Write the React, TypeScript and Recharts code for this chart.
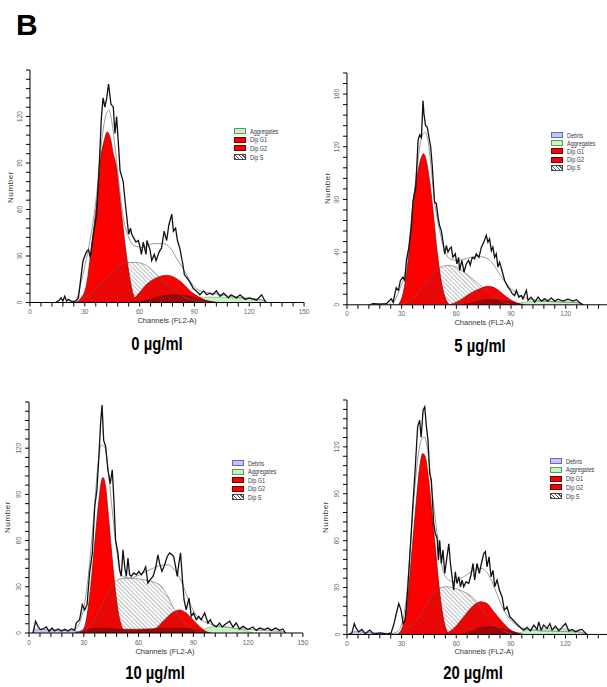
import React from "react"
import { ComposedChart, Area, Line, XAxis, YAxis } from "recharts"

type Pt = [number, number]

// ── Tick labels ───────────────────────────────────────────────────────────────

const xTicks = [0, 6, 12, 18, 24, 30, 36, 42, 48, 54, 60, 66, 72, 78, 84, 90, 96, 102, 108, 114, 120, 126, 132, 138, 144, 150]
const yTicks150 = [0, 6, 12, 18, 24, 30, 36, 42, 48, 54, 60, 66, 72, 78, 84, 90, 96, 102, 108, 114, 120, 126, 132, 138, 144, 150]
const yTicks176 = [0, 8, 16, 24, 32, 40, 48, 56, 64, 72, 80, 88, 96, 104, 112, 120, 128, 136, 144, 152, 160, 168, 176]

const legend0 = ["Aggregates", "Dip G1", "Dip G2", "Dip S"]
const legendN = ["Debris", "Aggregates", "Dip G1", "Dip G2", "Dip S"]

// ── 0 µg/ml  [channel, number] ────────────────────────────────────────────────

const raw0: Pt[] = [[14,0],[16,1.5],[17,3],[18,1],[19,4],[20,1],[21,2],[23,0.5],[25,1],[26.5,3],[29,27],[31,33],[32,34],[33,29],[34.7,44],[36.5,57],[38,91],[39,118],[40,132],[41,126],[42,132],[43,141],[44.3,128],[45.6,126],[46.5,109],[47.4,120],[48.4,102],[49.3,85],[51,78],[52,66],[53,55],[54,44],[55,48],[55.7,44],[56.6,42],[58,39],[59.3,40],[60,37],[61,31],[62,39],[63.5,31],[64,40],[65.7,34],[66.6,27],[68,31],[69,27],[70.8,33],[72,35],[73.4,46],[74.8,40],[76,50],[77.6,57],[78.5,46],[79.7,48],[80.7,40],[82,35],[83.6,25],[84.5,18],[85.8,16],[87.6,13],[89.4,9],[91,7.5],[93,5],[95,7.5],[96.7,5],[98.5,6],[100,5],[102,7.5],[104,4],[106,6],[108.6,3],[110,5],[113,3],[115,5],[117.7,2],[120,3],[124,1.5],[126.8,5],[128.6,1],[129.5,0]]
const fit0: Pt[] = [[25.5,1],[29,18],[32.8,40],[36.5,70],[39,102],[41.6,121],[43.2,124],[45,115],[47.4,91],[51,55],[54,42],[56.6,37],[62,35.5],[67.5,38],[73,38],[76.6,35.5],[80,29],[84,21.5],[87.6,14],[91,9],[96.7,6.5],[102,5.4],[111,3.7],[120,2.8],[127.7,1.5],[129.5,0]]
const g1_0: Pt[] = [[24.6,0],[28,3],[31,12],[34,40],[36.5,65],[38.3,90],[40.5,104],[42.3,110],[44,106],[45.6,96],[47.4,87],[49,70],[51,48],[53.8,22],[56.6,5],[59,0]]
const s0: Pt[] = [[25.5,0],[34.7,7.5],[40,14],[45.6,20],[50,24.7],[54,25.8],[58.4,25.8],[63.9,23.7],[69.3,18],[74.8,11.8],[80.3,6.5],[85.8,2.8],[93,0.6],[96.7,0]]
const g2_0: Pt[] = [[54.7,0],[58.4,4.3],[63.9,11.8],[69.3,16],[74.8,17.6],[78.5,16.5],[83,13],[87.6,7.5],[93,3.2],[98.5,0.6],[102,0]]
const dark0: Pt[] = [[56.6,0],[65.7,2],[73,4.3],[78.5,5],[85.8,4.3],[93,2],[100,0.5],[103,0]]
const agg0: Pt[] = [[60,0],[80,1.5],[90,3],[100,3.5],[110,3],[120,2.5],[128,1],[130,0]]

// ── 5 µg/ml ───────────────────────────────────────────────────────────────────

const raw5: Pt[] = [[12.4,0],[14.3,0.8],[18,0.5],[21.6,0.8],[24.3,4.5],[25.3,2],[27,13],[28.2,11],[29.3,18.5],[30.7,21],[31.7,18.5],[32.6,34],[34,44],[35.3,59],[36.2,79],[37.7,89],[39,125],[39.9,129],[40.8,127],[41.7,155],[42.2,145],[43.1,136],[44,135],[45,127],[45.9,120],[46.8,105],[48,78],[49,77],[49.9,67],[50.8,60],[51.7,56.5],[52.7,47.6],[53.6,38.7],[54.5,45],[55.4,40],[56.3,42.5],[57.2,43.8],[58.1,36],[59.4,38.7],[60.3,31],[61.2,36],[61.8,26],[63,33.7],[64.2,24.8],[65.4,31],[66.7,33.7],[67.6,30],[68.7,36],[70,35],[70.9,38.7],[72.4,36],[73.7,43.8],[75.1,47.6],[76.4,52.7],[77.3,47.6],[78.2,50],[79.2,41],[80,43.8],[81,36],[81.9,38.7],[82.8,28.6],[83.7,32.4],[85,26],[86.5,18.5],[88.3,13.4],[89.6,11],[90.7,8.4],[92,7],[92.9,11],[94.3,5.8],[95.6,7],[96.5,4.5],[98.4,11],[99.3,3.3],[101,5.8],[103,2],[104.8,5.8],[106.6,2.8],[108.4,4.5],[110.2,2.8],[112,5.3],[113.9,2.8],[115.7,4.3],[118.5,2.8],[121.2,4.3],[124,2.8],[125.8,3.8],[127.6,1.8],[129.4,0]]
const fit5: Pt[] = [[25.3,0.5],[28.9,12],[32.5,28.6],[36.2,76.7],[39,110],[40.8,127],[42.6,131],[44.4,125],[46.3,102],[48,79],[50.8,56.5],[53.6,41],[56.3,35],[60,33.7],[65.4,35],[70.9,36.7],[75.5,36],[79.2,32.4],[83.7,23.5],[87.4,16],[91,11],[94.7,7],[102,3.8],[113,2.3],[124,1.8],[128.5,0.8],[130,0]]
const g1_5: Pt[] = [[28,0],[30.7,8.4],[33.5,33.7],[36.2,76.7],[39,102],[40.8,112],[42,114.7],[43.5,109.6],[45.3,94.4],[47.2,71.6],[49,46.3],[50.8,26],[52.7,11],[54.5,3.3],[56.3,0]]
const s5: Pt[] = [[28.9,0],[36.2,4.5],[41.7,13.4],[47.2,23.5],[50.8,28],[55.4,30],[60,28.6],[65.4,23.5],[70.9,17.2],[76.4,11],[81.9,5.3],[87.4,1.3],[91,0]]
const g2_5: Pt[] = [[56.3,0],[61.8,3.3],[67.3,8.4],[72.8,12.2],[77.3,14],[81.9,12.2],[86.5,7],[91,2.8],[95.6,0]]
const dark5: Pt[] = [[63,0],[70.9,2],[76.4,3.8],[81.9,3.8],[87.4,2.8],[94.7,0.8],[98,0]]
const agg5: Pt[] = [[88,0],[95,1.5],[98.4,2],[105.7,2.8],[116.6,2.3],[125.8,1.8],[130,0]]
const deb5: Pt[] = [[12,0],[15,0.8],[25,0.5],[28,0]]

// ── 10 µg/ml ──────────────────────────────────────────────────────────────────

const raw10: Pt[] = [[2.2,0],[3.6,7.6],[4.9,4.3],[6.2,2.2],[7.7,2.6],[9.5,3.9],[11,1],[12.6,3.2],[14,1.3],[15.9,2.6],[17.7,1.3],[19.5,2.4],[21.4,1.3],[23.2,2.8],[25,1.7],[25.9,6.5],[27.7,8.6],[29.2,18.4],[30.5,15],[31.8,18.4],[33.2,39],[34.7,52],[36,82],[37.2,93],[38.3,115],[39.2,136],[40,148],[40.9,125],[42,121],[43.2,106],[44.5,97],[45.6,106],[46.5,86.5],[47.4,60.5],[48.7,52],[49.6,41],[50.5,36.8],[51.5,54],[52.4,43],[53.3,36.8],[54.2,48.6],[55.1,37.8],[56,36.8],[57.3,39],[58.8,37.8],[60.2,40],[61.5,37.8],[62.8,40],[63.9,43],[65.1,32.4],[66.4,34.6],[67.9,36.8],[69.3,42],[70.6,50.8],[71.5,45.4],[72.8,40],[74.3,44.3],[75.7,49.7],[77,52],[78.3,50.8],[79.2,49.7],[80.3,43],[81.2,36.8],[82.1,45.4],[83,52],[83.9,36.8],[84.9,21.6],[86.1,15],[87.6,22.7],[88.9,10.8],[90.1,13],[91.6,8.6],[93,10.8],[94.3,8.6],[96.2,13],[98,6.5],[99.3,8.6],[100.7,5.4],[102.6,3.9],[104.4,6.5],[105.8,3.9],[107.1,5.4],[109.9,7.6],[111.7,3.9],[113.5,6.5],[115.3,2.6],[117.2,4.3],[119.9,2.2],[122.6,3.9],[124.5,1.7],[126.3,3.2],[129,2.2],[130.8,3.2],[132.7,1.7],[135,3.2],[137.2,1.7],[139,2.6],[140.5,0]]
const fit10: Pt[] = [[25,2],[27.7,6.5],[30.5,19.5],[33.2,45.4],[36,84],[37.8,110],[39.6,122],[41.4,121],[43.2,108],[45,86.5],[46.9,65],[48.7,47.6],[51.5,36.8],[55.1,35.7],[60.6,37.8],[66,41],[71.5,43.7],[76.1,44.3],[79.7,41],[83.4,33.5],[87,22.7],[90.7,13],[94.3,8.6],[100.7,5.4],[108,3.9],[117,2.6],[126,1.7],[139,1],[140.5,0]]
const g1_10: Pt[] = [[27.7,0],[30.5,4.3],[33.2,23.8],[36,58.4],[38.3,86.5],[39.6,98.4],[40.5,101],[42,95],[43.2,80],[45,56],[46.9,32.4],[48.7,15],[50.5,5.4],[52.9,0.4],[54,0]]
const s10: Pt[] = [[25.9,0],[33.2,4.3],[36.9,10.8],[40.5,19.5],[44.2,29],[47.8,34],[51.5,35.5],[56.9,35.5],[62.4,34.6],[67.9,33.3],[72.4,30.3],[76.1,23.8],[79.7,15],[83.4,8.6],[88,3.9],[93.4,0.9],[97,0]]
const g2_10: Pt[] = [[64.2,0],[69.7,3.2],[74.3,8.6],[78.8,13.4],[82.5,15],[86.1,13],[89.8,8.6],[93.4,4.3],[97,1],[99.8,0]]
const dark10: Pt[] = [[25,0],[32,2.5],[40,3.2],[50,2.5],[60,2.5],[70,3],[80,3.2],[90,2.5],[97,0]]
const agg10: Pt[] = [[93,0],[97,3],[100,4],[105,4.3],[110,3.5],[115,2.5],[120,1],[123,0]]
const deb10: Pt[] = [[2,0],[3,2.5],[10,2.2],[20,1.8],[25,1.5],[28,0]]

// ── 20 µg/ml ──────────────────────────────────────────────────────────────────

const raw20: Pt[] = [[0.9,0],[2.7,1],[4,7],[5.1,3.8],[6.4,1.7],[8.2,3.2],[10,0.4],[12.5,2.8],[14.7,0.2],[18.3,1],[22,0.2],[24.2,1],[25.6,6],[27.1,13.4],[28.4,19.8],[29.7,15.6],[30.8,7],[32,9.2],[33.3,28.4],[34.8,56],[36,79.5],[37.5,107],[38.8,133],[39.9,137],[40.7,126],[41.8,143.5],[42.7,145.6],[43.6,133],[44.5,124],[45.4,103],[46.3,98.7],[47.6,71],[48.5,64.6],[49.5,61.4],[50.2,47.5],[50.9,60.3],[51.8,45.4],[52.7,54],[53.7,39],[54.9,49.7],[55.9,58],[56.8,45.4],[57.7,36.9],[58.6,28.4],[59.5,40],[60.4,32.6],[61.4,36.9],[62.3,30.5],[63.2,34.8],[64.1,30.5],[65.4,33.7],[66.8,32.6],[68.1,38],[69.2,45.4],[70.1,34.8],[71.4,45.4],[72.7,39],[73.8,45.4],[75.1,51.8],[76,53],[76.9,43.3],[78,49.7],[79.1,36.9],[80.2,41],[81.1,30.5],[82.4,34.8],[83.7,28.4],[85.2,24],[86.4,15.6],[87.9,17.7],[89.4,11.3],[91.2,9.2],[93,7],[95.2,4.5],[97,2.8],[98.9,4.5],[100.7,2.3],[102.6,6],[104.4,3.2],[105.3,8],[106.6,2.8],[108,6],[109.9,3.8],[111.4,7],[112.6,2.8],[114.5,5.3],[116.3,2.3],[118.1,4.5],[120,7],[121.8,2.3],[123.6,3.2],[125.5,1.7],[127.3,2.8],[129.1,3.2],[130.4,1.5],[131.9,0]]
const fit20: Pt[] = [[23.8,0.5],[27.5,1.7],[30.2,7],[33,28.4],[35.7,71],[38.5,109],[40.7,124],[42.5,126.4],[44.3,118],[46.7,92],[49.5,64.6],[52.2,43.3],[54.9,35.8],[58.6,33.7],[64.1,36.9],[69.6,41],[74.2,42.2],[77.8,38],[81.5,28.4],[85.2,17.7],[88.8,10.7],[92.5,6.4],[97,3.8],[106.2,2.3],[117.2,1.9],[128.2,1.5],[131,0]]
const g1_20: Pt[] = [[27.5,0],[30.2,3.8],[33,19.8],[35.7,54],[38.1,86],[39.9,107],[41.6,115.8],[43,113.6],[44.9,98.7],[46.7,77.4],[48.5,56],[50.4,32.6],[52.2,15.6],[54,4.9],[55.9,0.6],[57.5,0]]
const s20: Pt[] = [[26.6,0],[33,3.8],[38.5,9.2],[43,17.7],[47.6,26.2],[51.3,29.9],[54.9,30.5],[59.5,29.4],[64.1,27.3],[68.7,24],[73.3,17.7],[77.8,10.2],[82.4,4.9],[87,1.7],[91.6,0]]
const g2_20: Pt[] = [[53.1,0],[58.6,3.8],[64.1,11.3],[68.7,17.7],[73.3,20.9],[76.9,19.8],[80.6,14.5],[85.2,8.1],[88.8,3.8],[93.4,0.6],[95.2,0]]
const dark20: Pt[] = [[62.3,0],[67.8,1.7],[74.2,4.5],[78.8,4.9],[84.2,3.8],[89.7,2.3],[95.2,0.6],[97,0]]
const agg20: Pt[] = [[90,0],[95,1],[98,2.5],[105,3.5],[115,3.8],[122,3],[128,1.5],[131,0]]
const deb20: Pt[] = [[2,0],[4,2],[10,1.5],[20,1],[26,0.5],[28,0]]

// ── Helpers ───────────────────────────────────────────────────────────────────

const rows = (pts: Pt[]) => pts.map(([ch, n]) => ({ ch, n }))

const FONT = 'Arial, "Liberation Sans", sans-serif'
const YW = 30
const MR = 10

interface Series {
  raw: Pt[]
  fit: Pt[]
  g1: Pt[]
  g2: Pt[]
  s: Pt[]
  dark: Pt[]
  agg: Pt[]
  deb?: Pt[]
}

interface PanelCfg {
  id: string
  x0: number      // y-axis x
  yb: number      // baseline y
  pxX: number     // px per channel
  pxY: number     // px per count
  yMax: number
  yTicks: number[]
  yStep: number   // labelled step
  xLabelMax: number
  title: string
  titleX: number
  titleY: number
  numX: number
  numY: number
  chanX: number
  chanY: number
  legX: number
  legY: number
  legGap: number
  legend: string[]
}

const makeXTick = (maxLabel: number) => (props: any) => {
  const { x, y, payload } = props
  if (payload.value % 30 !== 0 || payload.value > maxLabel) return <g />
  return (
    <text x={x} y={y + 1} dy="0.71em" textAnchor="middle" fontSize={6.5} fill="#666" fontFamily={FONT}>
      {payload.value}
    </text>
  )
}

const makeYTick = (step: number, yMax: number) => (props: any) => {
  const { x, y, payload } = props
  if (payload.value % step !== 0 || payload.value >= yMax) return <g />
  return (
    <text
      x={x - 4} y={y}
      transform={`rotate(-90, ${x - 4}, ${y})`}
      textAnchor="middle"
      dominantBaseline="central"
      fontSize={6.5}
      fill="#666"
      fontFamily={FONT}
    >
      {payload.value}
    </text>
  )
}

const swatch: Record<string, React.CSSProperties> = {
  "Debris":     { background: "#c4c4f2", border: "1px solid #6a6ab8" },
  "Aggregates": { background: "#c6f2c6", border: "1px solid #5c9c5c" },
  "Dip G1":     { background: "#ff0000", border: "1px solid #700000" },
  "Dip G2":     { background: "#ff0000", border: "1px solid #700000" },
  "Dip S":      { background: "repeating-linear-gradient(45deg, #555 0 1px, #fff 1px 2.5px)", border: "1px solid #444" },
}

function ModLegend({ x, y, gap, items }: { x: number; y: number; gap: number; items: string[] }) {
  return (
    <>
      {items.map((name, i) => (
        <div key={name} style={{ position: "absolute", left: x, top: y + i * gap - 3.5, height: 7, display: "flex", alignItems: "center" }}>
          <div style={{ width: 10, height: 4, ...swatch[name] }} />
          <span style={{ marginLeft: 4, fontSize: 6.5, color: "#33364a", fontFamily: FONT, whiteSpace: "nowrap", transform: "scaleX(0.85)", transformOrigin: "left center", display: "inline-block" }}>
            {name}
          </span>
        </div>
      ))}
    </>
  )
}

// ── Panel ─────────────────────────────────────────────────────────────────────

function Panel({ cfg, d }: { cfg: PanelCfg; d: Series }) {
  const W = 150 * cfg.pxX
  const H = cfg.yMax * cfg.pxY
  const left = cfg.x0 - YW
  const top = cfg.yb - H - 2
  const hatch = `hatch-${cfg.id}`

  return (
    <>
      <div style={{ position: "absolute", left, top }}>
        <ComposedChart width={YW + W + MR} height={H + 24} margin={{ top: 2, right: MR, bottom: 0, left: 0 }}>
          <defs>
            <pattern id={hatch} patternUnits="userSpaceOnUse" width={3} height={3} patternTransform="rotate(-45)">
              <line x1={0} y1={0} x2={0} y2={3} stroke="#3a3a3a" strokeOpacity={0.75} strokeWidth={0.9} />
            </pattern>
          </defs>
          <XAxis
            type="number" dataKey="ch" domain={[0, 150]} ticks={xTicks} interval={0}
            allowDataOverflow tick={makeXTick(cfg.xLabelMax)} tickSize={4} height={22}
            axisLine={{ stroke: "#000" }} tickLine={{ stroke: "#000" }}
          />
          <YAxis
            type="number" domain={[0, cfg.yMax]} ticks={cfg.yTicks} interval={0}
            allowDataOverflow tick={makeYTick(cfg.yStep, cfg.yMax)} tickSize={4} width={YW}
            axisLine={{ stroke: "#000" }} tickLine={{ stroke: "#000" }}
          />
          {d.deb && (
            <Area data={rows(d.deb)} dataKey="n" type="monotone" fill="#c4c4f2" fillOpacity={1} stroke="#6a6ab8" strokeWidth={0.5} isAnimationActive={false} />
          )}
          <Area data={rows(d.agg)} dataKey="n" type="monotone" fill="#c6f2c6" fillOpacity={1} stroke="#5c9c5c" strokeWidth={0.5} isAnimationActive={false} />
          <Area data={rows(d.g1)} dataKey="n" type="monotone" fill="#ff0000" fillOpacity={1} stroke="#700000" strokeWidth={0.6} isAnimationActive={false} />
          <Area data={rows(d.g2)} dataKey="n" type="monotone" fill="#ff0000" fillOpacity={1} stroke="#700000" strokeWidth={0.6} isAnimationActive={false} />
          <Area data={rows(d.dark)} dataKey="n" type="monotone" fill="#a80000" fillOpacity={1} stroke="#500000" strokeWidth={0.5} isAnimationActive={false} />
          <Area data={rows(d.s)} dataKey="n" type="monotone" fill={`url(#${hatch})`} fillOpacity={1} stroke="#666" strokeWidth={0.6} isAnimationActive={false} />
          <Line data={rows(d.fit)} dataKey="n" type="monotone" stroke="#808080" strokeWidth={0.8} dot={false} activeDot={false} isAnimationActive={false} />
          <Line data={rows(d.raw)} dataKey="n" type="linear" stroke="#111" strokeWidth={1.3} dot={false} activeDot={false} isAnimationActive={false} />
        </ComposedChart>
      </div>

      <ModLegend x={cfg.legX} y={cfg.legY} gap={cfg.legGap} items={cfg.legend} />

      <div style={{ position: "absolute", left: cfg.numX, top: cfg.numY, transform: "translate(-50%, -50%) rotate(-90deg)", fontSize: 8, letterSpacing: 0.6, color: "#333", fontFamily: FONT, whiteSpace: "nowrap" }}>
        Number
      </div>
      <div style={{ position: "absolute", left: cfg.chanX - 60, top: cfg.chanY - 5, width: 120, textAlign: "center", fontSize: 7.5, color: "#333", fontFamily: FONT, whiteSpace: "nowrap" }}>
        Channels (FL2-A)
      </div>
      <div style={{ position: "absolute", left: cfg.titleX - 100, top: cfg.titleY, width: 200, textAlign: "center", fontSize: 19, lineHeight: "19px", fontWeight: 700, fontFamily: FONT, transform: "scaleX(0.78)", color: "#000" }}>
        {cfg.title}
      </div>
    </>
  )
}

// ── Layout ────────────────────────────────────────────────────────────────────

const panels: { cfg: PanelCfg; d: Series }[] = [
  {
    cfg: { id: "p0", x0: 30, yb: 302, pxX: 1.827, pxY: 1.55, yMax: 150, yTicks: yTicks150, yStep: 30, xLabelMax: 150, title: "0 µg/ml", titleX: 157, titleY: 334, numX: 10, numY: 187, chanX: 167, chanY: 321, legX: 234, legY: 131, legGap: 8.7, legend: legend0 },
    d: { raw: raw0, fit: fit0, g1: g1_0, g2: g2_0, s: s0, dark: dark0, agg: agg0 },
  },
  {
    cfg: { id: "p5", x0: 347, yb: 304.5, pxX: 1.823, pxY: 1.317, yMax: 176, yTicks: yTicks176, yStep: 40, xLabelMax: 120, title: "5 µg/ml", titleX: 480, titleY: 335.5, numX: 327, numY: 188, chanX: 484, chanY: 323, legX: 551, legY: 135, legGap: 8.2, legend: legendN },
    d: { raw: raw5, fit: fit5, g1: g1_5, g2: g2_5, s: s5, dark: dark5, agg: agg5, deb: deb5 },
  },
  {
    cfg: { id: "p10", x0: 29.3, yb: 633, pxX: 1.826, pxY: 1.54, yMax: 150, yTicks: yTicks150, yStep: 30, xLabelMax: 150, title: "10 µg/ml", titleX: 155, titleY: 663, numX: 7, numY: 517, chanX: 165, chanY: 652, legX: 232, legY: 463, legGap: 8.5, legend: legendN },
    d: { raw: raw10, fit: fit10, g1: g1_10, g2: g2_10, s: s10, dark: dark10, agg: agg10, deb: deb10 },
  },
  {
    cfg: { id: "p20", x0: 347, yb: 634.3, pxX: 1.821, pxY: 1.563, yMax: 150, yTicks: yTicks150, yStep: 30, xLabelMax: 120, title: "20 µg/ml", titleX: 473, titleY: 663, numX: 325, numY: 517, chanX: 484, chanY: 652, legX: 550, legY: 461, legGap: 8.75, legend: legendN },
    d: { raw: raw20, fit: fit20, g1: g1_20, g2: g2_20, s: s20, dark: dark20, agg: agg20, deb: deb20 },
  },
]

export default function App() {
  return (
    <div style={{ position: "absolute", left: 0, top: 0, width: 607, height: 687, overflow: "hidden", background: "#fff" }}>
      <div style={{ position: "absolute", left: 16, top: 10, fontSize: 30, lineHeight: "30px", fontWeight: 700, fontFamily: FONT, color: "#000" }}>
        B
      </div>
      {panels.map((p) => (
        <Panel key={p.cfg.id} cfg={p.cfg} d={p.d} />
      ))}
    </div>
  )
}
